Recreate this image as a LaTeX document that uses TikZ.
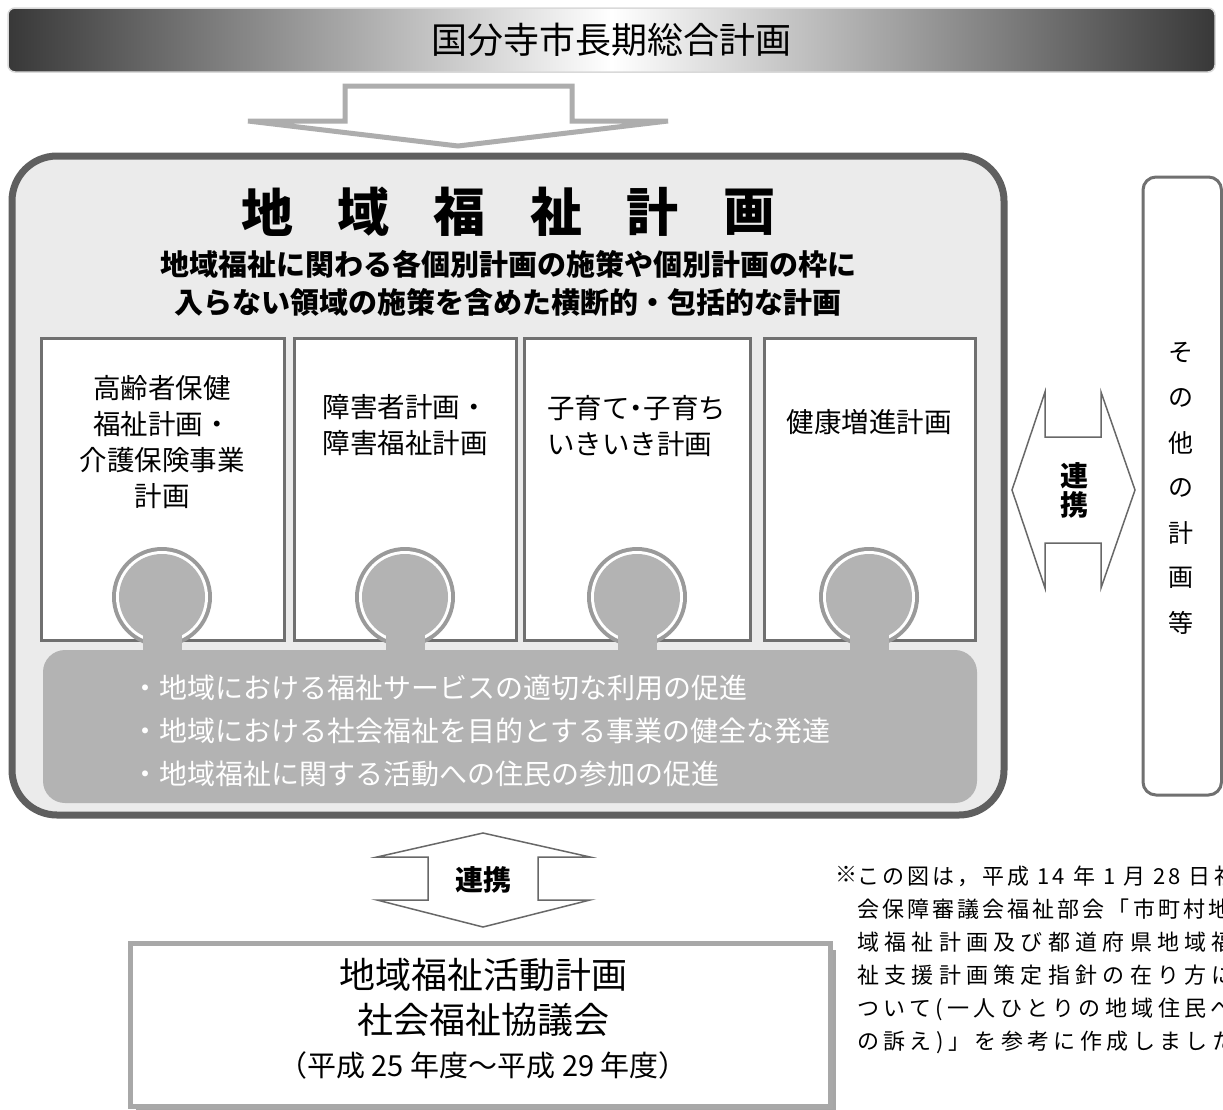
\documentclass[tikz,border=0pt]{standalone}
\usepackage{fontspec}
\setmainfont{Noto Sans CJK JP}
\definecolor{obikuro}{HTML}{383838}
\definecolor{waku}{HTML}{5F5F5F}
\definecolor{jiban}{HTML}{EBEBEB}
\definecolor{keikakusen}{HTML}{707070}
\definecolor{atamawa}{HTML}{9A9A9A}
\definecolor{atama}{HTML}{B3B3B3}
\definecolor{yajirushi}{HTML}{ADADAD}
\definecolor{renkeisen}{HTML}{686868}
\definecolor{katsudosen}{HTML}{A8A8A8}

\begin{document}
\begin{tikzpicture}
[
    x=1pt, y=-1pt,
    obi/.style={rounded corners=7pt, draw=gray!30, line width=1.5pt, left color=obikuro, right color=obikuro, middle color=white, minimum width=1207pt, minimum height=64pt, inner sep=0pt, font=\fontsize{36}{40}\selectfont},
    kudari/.style={draw=yajirushi, line width=5pt, fill=white},
    jibanwaku/.style={draw=waku, line width=7pt, fill=jiban, rounded corners=45pt},
    plan/.style={draw=keikakusen, line width=3pt, fill=white},
    plantext/.style={inner sep=0pt, align=center, font=\fontsize{27.5}{36}\selectfont},
    titlechar/.style={inner sep=0pt, font=\fontsize{52}{60}\selectfont\bfseries},
    subtitle/.style={inner sep=0pt, font=\fontsize{29}{38}\selectfont\bfseries},
    bulletline/.style={inner sep=0pt, anchor=west, text=white, font=\fontsize{28}{34}\selectfont},
    renkeiya/.style={draw=renkeisen, line width=1.5pt, fill=white},
    renkei/.style={inner sep=0pt, align=center, font=\fontsize{28}{29}\selectfont\bfseries},
    sonotawaku/.style={draw=keikakusen, line width=3pt, rounded corners=13pt, fill=white},
    sidechar/.style={inner sep=0pt, font=\fontsize{25}{27}\selectfont},
    katsudowaku/.style={draw=katsudosen, line width=5pt, fill=white},
    katsudotext/.style={inner sep=0pt, font=\fontsize{36}{40}\selectfont},
    chuki/.style={inner sep=0pt, anchor=north west, align=left, font=\fontsize{22}{33}\selectfont\addfontfeature{LetterSpace=14}},
]
\useasboundingbox (0,0) rectangle (1223,1109);
\fill[white] (0,0) rectangle (1223,1109);

\node[obi] (choukei) at (611.5,40) {国分寺市長期総合計画};
\draw[kudari] (345,86) -- (572,86) -- (572,121) -- (668,121) -- (458,146) -- (248,121) -- (345,121) -- cycle;

\draw[jibanwaku] (12,156) rectangle (1004,815);
\foreach \ch [count=\i from 0] in {地,域,福,祉,計,画}
    \node[titlechar] (t\i) at ({267+96.4*\i},212) {\ch};
\node[subtitle] (sub1) at (508,264) {地域福祉に関わる各個別計画の施策や個別計画の枠に};
\node[subtitle] (sub2) at (508,302) {入らない領域の施策を含めた横断的・包括的な計画};

\draw[plan] (41,338) rectangle (284,640);
\draw[plan] (294,338) rectangle (516,640);
\draw[plan] (524,338) rectangle (750,640);
\draw[plan] (764,338) rectangle (975,640);

\node[plantext] (kourei) at (162,442) {高齢者保健\\福祉計画・\\介護保険事業\\計画};
\node[plantext] (shougai) at (405,425) {障害者計画・\\障害福祉計画};
\node[plantext, align=left, anchor=west] (kosodate) at (547,426) {子育て\makebox[14pt]{・}子育ち\\いきいき計画};
\node[plantext] (kenkou) at (869,422) {健康増進計画};

\foreach \cx in {162,405,637,869} {
    \fill[atamawa] (\cx,597) circle (50pt);
    \fill[white] (\cx,597) circle (46pt);
    \fill[atama] (\cx,597) circle (43pt);
    \fill[atama] (\cx-19.5,615) rectangle (\cx+19.5,655);
}
\fill[atama, rounded corners=22pt] (43,650) rectangle (977,803);
\node[bulletline] (b1) at (131,688) {・地域における福祉サービスの適切な利用の促進};
\node[bulletline] (b2) at (131,731) {・地域における社会福祉を目的とする事業の健全な発達};
\node[bulletline] (b3) at (131,774) {・地域福祉に関する活動への住民の参加の促進};

\draw[renkeiya] (1012,490) -- (1045,392) -- (1045,437) -- (1101,437) -- (1101,392) -- (1135,490) -- (1101,588) -- (1101,543) -- (1045,543) -- (1045,588) -- cycle;
\node[renkei] (renkei1) at (1074,490) {連\\携};

\draw[sonotawaku] (1143,177) rectangle (1221.5,795);
\foreach \ch [count=\i from 0] in {そ,の,他,の,計,画,等}
    \node[sidechar] (s\i) at (1181,{353+45*\i}) {\ch};

\draw[renkeiya] (483,833) -- (590,857) -- (538,857) -- (538,900) -- (590,900) -- (483,927) -- (377,900) -- (428,900) -- (428,857) -- (377,857) -- cycle;
\node[renkei] (renkei2) at (483,880) {連携};

\fill[black!35] (136,950) rectangle (836,1113);
\draw[katsudowaku] (130,943) rectangle (830,1106);
\node[katsudotext] (katsudo) at (483,975) {地域福祉活動計画};
\node[katsudotext] (shakyo) at (483,1020) {社会福祉協議会};
\node[inner sep=0pt, font=\fontsize{29}{32}\selectfont] (kikan) at (483,1065) {（平成 25 年度～平成 29 年度）};

\node[chuki] (kome) at (835,866) {※};
\node[chuki] (chuu) at (857,866) {この図は，平成 14 年 1 月 28 日社\\会保障審議会福祉部会「市町村地\\{\addfontfeature{LetterSpace=24}域福祉計画及び都道府県地域福}\\{\addfontfeature{LetterSpace=24}祉支援計画策定指針の在り方に}\\{\addfontfeature{LetterSpace=20}ついて(一人ひとりの地域住民へ}\\{\addfontfeature{LetterSpace=20}の訴え)」を参考に作成しました}};
\end{tikzpicture}
\end{document}
